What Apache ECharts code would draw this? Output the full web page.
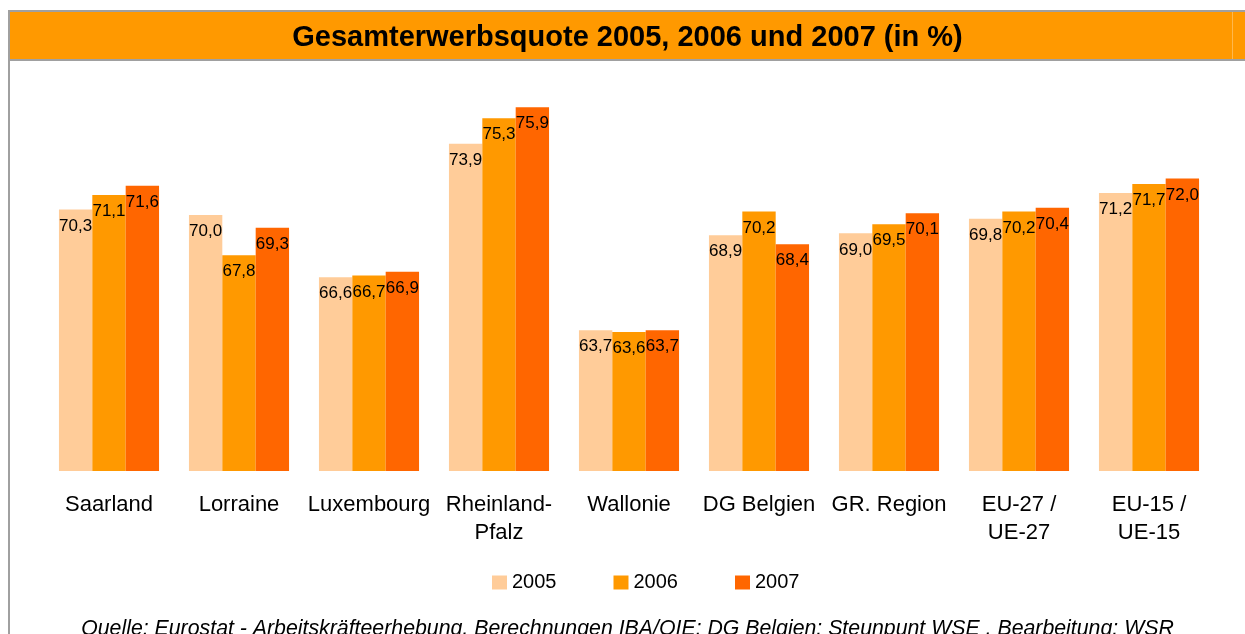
<!DOCTYPE html>
<html>
<head>
<meta charset="utf-8">
<script src="https://cdn.jsdelivr.net/npm/echarts@6/dist/echarts.min.js"></script>
<style>
html,body{margin:0;padding:0;background:#fff;}
#c{width:1245px;height:634px;}
</style>
</head>
<body>
<div id="c"></div>
<script>
var categories = ['Saarland', 'Lorraine', 'Luxembourg', 'Rheinland-\nPfalz', 'Wallonie', 'DG Belgien', 'GR. Region', 'EU-27 /\nUE-27', 'EU-15 /\nUE-15'];
var values2005 = [70.3, 70.0, 66.6, 73.9, 63.7, 68.9, 69.0, 69.8, 71.2];
var values2006 = [71.1, 67.8, 66.7, 75.3, 63.6, 70.2, 69.5, 70.2, 71.7];
var values2007 = [71.6, 69.3, 66.9, 75.9, 63.7, 68.4, 70.1, 70.4, 72.0];
var seriesNames = ['2005', '2006', '2007'];
var titleText = 'Gesamterwerbsquote 2005, 2006 und 2007 (in %)';
var sourceText = 'Quelle: Eurostat - Arbeitskräfteerhebung, Berechnungen IBA/OIE; DG Belgien: Steunpunt WSE , Bearbeitung: WSR';

var colors = ['#FFCC99', '#FF9900', '#FF6600'];
var font = '"Liberation Sans", Arial, sans-serif';

function mkSeries(name, data, color) {
  return {
    name: name,
    type: 'bar',
    data: data,
    barGap: '0%',
    barCategoryGap: '23%',
    itemStyle: { color: color },
    label: {
      show: true,
      position: 'insideTop',
      distance: 8,
      color: '#000',
      fontFamily: font,
      fontSize: 17,
      formatter: function (p) { return p.value.toFixed(1).replace('.', ','); }
    },
    emphasis: { disabled: true }
  };
}

var chart = echarts.init(document.getElementById('c'), null, { renderer: 'canvas' });
chart.setOption({
  animation: false,
  backgroundColor: '#fff',
  textStyle: { fontFamily: font },
  grid: { left: 44, right: 31, top: 68.8, bottom: 163, containLabel: false },
  xAxis: {
    type: 'category',
    data: categories,
    axisLine: { show: false },
    axisTick: { show: false },
    axisLabel: {
      interval: 0,
      margin: 20,
      color: '#000',
      fontFamily: font,
      fontSize: 22,
      lineHeight: 28
    }
  },
  yAxis: {
    type: 'value',
    min: 56,
    max: 78,
    show: false,
    splitLine: { show: false }
  },
  legend: {
    data: seriesNames,
    left: 487,
    top: 567,
    itemWidth: 15,
    itemHeight: 14,
    itemGap: 57,
    icon: 'rect',
    textStyle: { color: '#000', fontFamily: font, fontSize: 20, lineHeight: 21 }
  },
  series: [
    mkSeries(seriesNames[0], values2005, colors[0]),
    mkSeries(seriesNames[1], values2006, colors[1]),
    mkSeries(seriesNames[2], values2007, colors[2])
  ],
  graphic: [
    { type: 'rect', shape: { x: 9, y: 11, width: 1240, height: 49 }, style: { fill: '#FF9900' }, silent: true, z: 0 },
    { type: 'line', shape: { x1: 1232.5, y1: 12, x2: 1232.5, y2: 59 }, style: { stroke: '#FFB84D', lineWidth: 1 }, silent: true },
    { type: 'line', shape: { x1: 8, y1: 11, x2: 1245, y2: 11 }, style: { stroke: '#A0A0A0', lineWidth: 2 }, silent: true },
    { type: 'line', shape: { x1: 8, y1: 60, x2: 1245, y2: 60 }, style: { stroke: '#A0A0A0', lineWidth: 2 }, silent: true },
    { type: 'line', shape: { x1: 9, y1: 10, x2: 9, y2: 634 }, style: { stroke: '#A0A0A0', lineWidth: 2 }, silent: true },
    { type: 'text', x: 627.5, y: 38, style: { text: titleText, fill: '#000', font: 'bold 29px ' + font, textAlign: 'center', textVerticalAlign: 'middle' }, silent: true },
    { type: 'text', x: 627.5, y: 629, style: { text: sourceText, fill: '#000', font: 'italic 21.3px ' + font, textAlign: 'center', textVerticalAlign: 'middle' }, silent: true }
  ]
});
</script>
</body>
</html>
